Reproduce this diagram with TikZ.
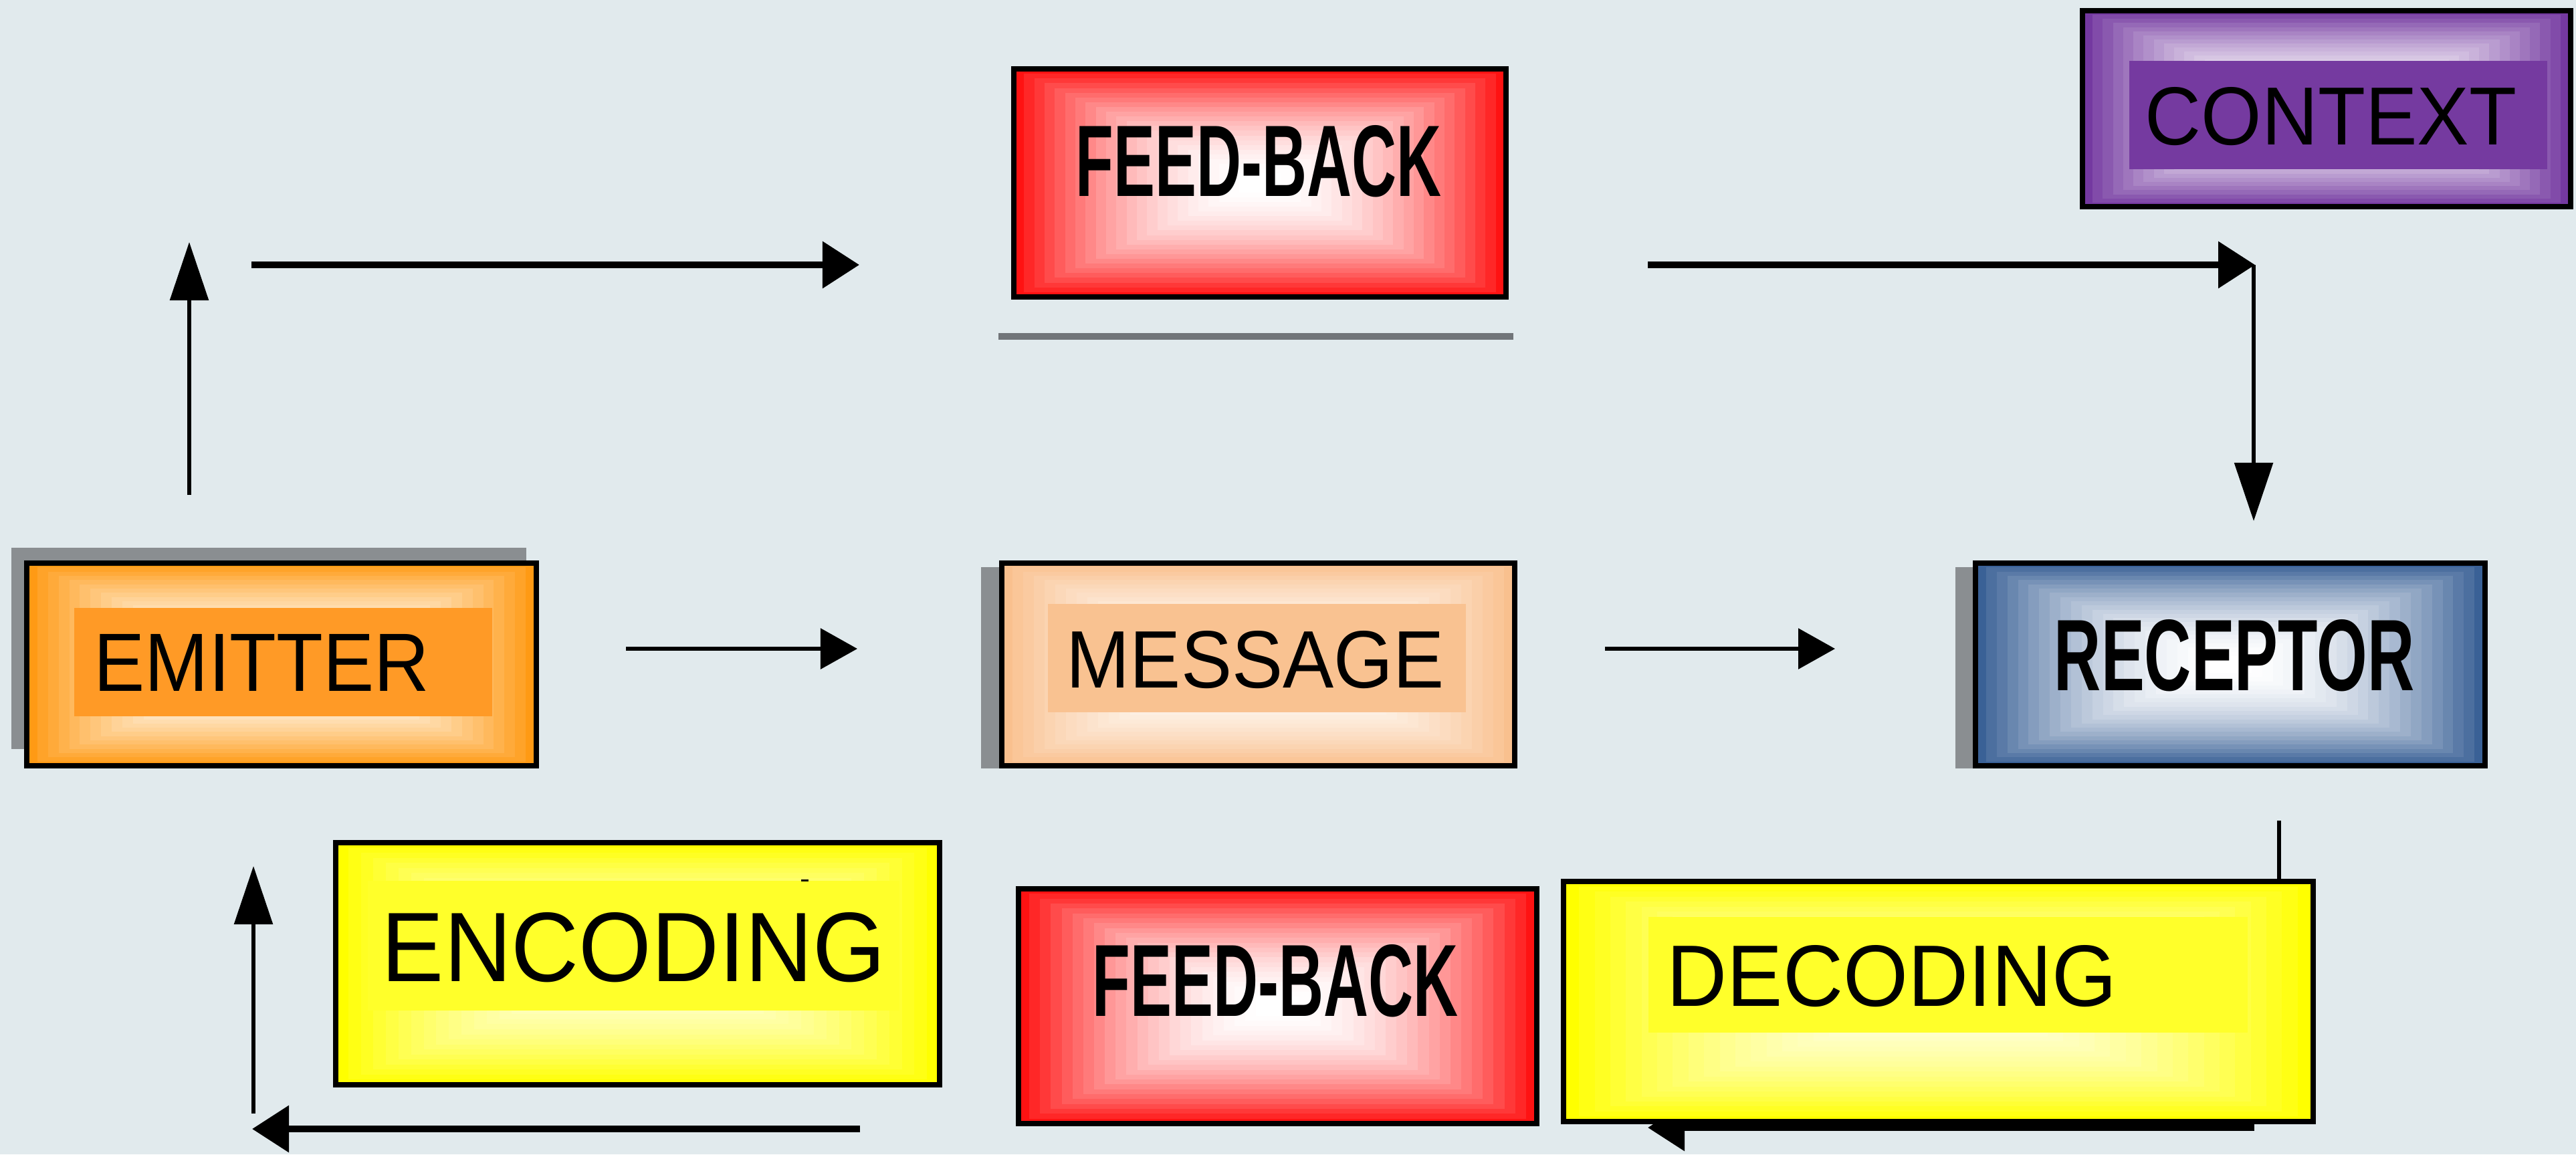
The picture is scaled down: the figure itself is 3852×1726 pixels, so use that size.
\documentclass[tikz,border=0pt]{standalone}
\usepackage{fontspec}
\setmainfont{Liberation Sans}
\usepackage{graphicx}
\usetikzlibrary{arrows.meta,calc}
\definecolor{bgC}{HTML}{E1EAED}
\definecolor{emitC}{HTML}{FF9A14}
\definecolor{emitT}{HTML}{FF9A26}
\definecolor{msgC}{HTML}{F9C08E}
\definecolor{msgT}{HTML}{F9C291}
\definecolor{recC}{HTML}{3A6196}
\definecolor{ctxC}{HTML}{7439A0}
\definecolor{ctxT}{HTML}{753AA0}
\definecolor{fbC}{HTML}{FF1212}
\definecolor{yelC}{HTML}{FFFF00}
\definecolor{yelT}{HTML}{FFFF2A}
\definecolor{yelM}{HTML}{FFFFDA}
\definecolor{shadowC}{HTML}{8A8E91}
\definecolor{ruleC}{HTML}{717579}
\tikzset{
  gbox/.style 2 args={draw=black, line width=2.42pt, inner sep=0pt, rectangle,
    path picture={
      \foreach \i in {0,...,23}{
        \pgfmathsetmacro\f{\i/48}
        \pgfmathtruncatemacro\m{100*(1-\i/24)^2}
        \fill[#1!\m!#2]
          ($(path picture bounding box.south west)!\f!(path picture bounding box.north east)$)
          rectangle
          ($(path picture bounding box.north east)!\f!(path picture bounding box.south west)$);
      }
    }},
  harrow/.style={draw=black, line width=2.85pt, -{Triangle[length=0.55cm,width=0.68cm]}},
  varrow/.style={draw=black, line width=1.6pt, -{Triangle[length=0.87cm,width=0.57cm]}},
  marrow/.style={draw=black, line width=1.7pt, -{Triangle[length=0.55cm,width=0.6cm]}},
  lab/.style={anchor=base, inner sep=0pt, text=black},
}
\begin{document}
\begin{tikzpicture}[x=0.01cm,y=-0.01cm]
\useasboundingbox (0,0) rectangle (3852,1726);
\fill[bgC] (0,0) rectangle (3852,1726);

% shadows
\fill[shadowC] (17,819) rectangle (787,1120);
\fill[shadowC] (1467,848) rectangle (2200,1149);
\fill[shadowC] (2924,848) rectangle (3700,1149);

% connectors
\coordinate (a1s) at (283,740);  \coordinate (a1e) at (283,362);
\coordinate (a2s) at (376,396);  \coordinate (a2e) at (1285,396);
\coordinate (a3s) at (2464,396); \coordinate (a3e) at (3372,396);
\coordinate (a4s) at (3370,396); \coordinate (a4e) at (3370,779);
\coordinate (m1s) at (936,970);  \coordinate (m1e) at (1282,970);
\coordinate (m2s) at (2400,970); \coordinate (m2e) at (2744,970);
\coordinate (b1s) at (1286,1688); \coordinate (b1e) at (377,1688);
\coordinate (b2s) at (379,1665); \coordinate (b2e) at (379,1295);
\coordinate (r1) at (3408,1227); \coordinate (r2) at (3408,1660);
\coordinate (r3s) at (3371,1686); \coordinate (r3e) at (2464,1686);

\draw[varrow] (a1s) -- (a1e);
\draw[harrow] (a2s) -- (a2e);
\draw[harrow] (a3s) -- (a3e);
\draw[varrow] (a4s) -- (a4e);
\draw[marrow] (m1s) -- (m1e);
\draw[marrow] (m2s) -- (m2e);
\draw[harrow] (b1s) -- (b1e);
\draw[varrow] (b2s) -- (b2e);
\draw[line width=1.6pt] (r1) -- (r2);
\draw[harrow] (r3s) -- (r3e);

% rule under top feed-back
\coordinate (rl1) at (1493,503); \coordinate (rl2) at (2263,503);
\draw[ruleC, line width=2.85pt] (rl1) -- (rl2);

% boxes
\node[gbox={emitC}{white}, minimum width=7.615cm, minimum height=3.025cm] (emitter) at (421,993.5) {};
\node[gbox={msgC}{white}, minimum width=7.665cm, minimum height=3.025cm] (message) at (1881.5,993.5) {};
\node[gbox={recC}{white}, minimum width=7.615cm, minimum height=3.025cm] (receptor) at (3335,993.5) {};
\node[gbox={fbC}{white}, minimum width=7.355cm, minimum height=3.405cm] (fbtop) at (1884,273.5) {};
\node[gbox={ctxC}{white}, minimum width=7.295cm, minimum height=2.925cm] (context) at (3479,162.5) {};
\node[gbox={yelC}{yelM}, minimum width=9.025cm, minimum height=3.615cm] (encoding) at (953.5,1441) {};
\node[gbox={fbC}{white}, minimum width=7.745cm, minimum height=3.505cm] (fbbot) at (1910.5,1504.5) {};
\node[gbox={yelC}{yelM}, minimum width=11.205cm, minimum height=3.585cm] (decoding) at (2898.5,1497.5) {};

% text panels
\fill[emitT] (111,909) rectangle (736,1071);
\fill[msgT] (1567,903) rectangle (2192,1065);
\fill[ctxT] (3184,91) rectangle (3809,253);
\fill[yelT] (550,1317) rectangle (1345,1511);
\fill[yelT] (2465,1371) rectangle (3361,1544);
\draw[line width=0.85pt] (1198,1316) -- (1209,1316);

% labels
\node[lab] (emitterT) at (391.5,1033) {\resizebox{5.01cm}{0.85cm}{EMITTER}};
\node[lab] (messageT) at (1877,1028) {\resizebox{5.64cm}{0.85cm}{MESSAGE}};
\node[lab] (receptorT) at (3341,1032) {\resizebox{5.38cm}{1.06cm}{\bfseries RECEPTOR}};
\node[lab] (contextT) at (3485.5,216) {\resizebox{5.55cm}{0.86cm}{CONTEXT}};
\node[lab] (fbtopT) at (1882,293) {\resizebox{5.46cm}{1.06cm}{\bfseries FEED-BACK}};
\node[lab] (fbbotT) at (1907,1519) {\resizebox{5.46cm}{1.07cm}{\bfseries FEED-BACK}};
\node[lab] (encodingT) at (947.5,1467) {\resizebox{7.53cm}{1.03cm}{ENCODING}};
\node[lab] (decodingT) at (2829,1504) {\resizebox{6.72cm}{0.91cm}{DECODING}};
\end{tikzpicture}
\end{document}
